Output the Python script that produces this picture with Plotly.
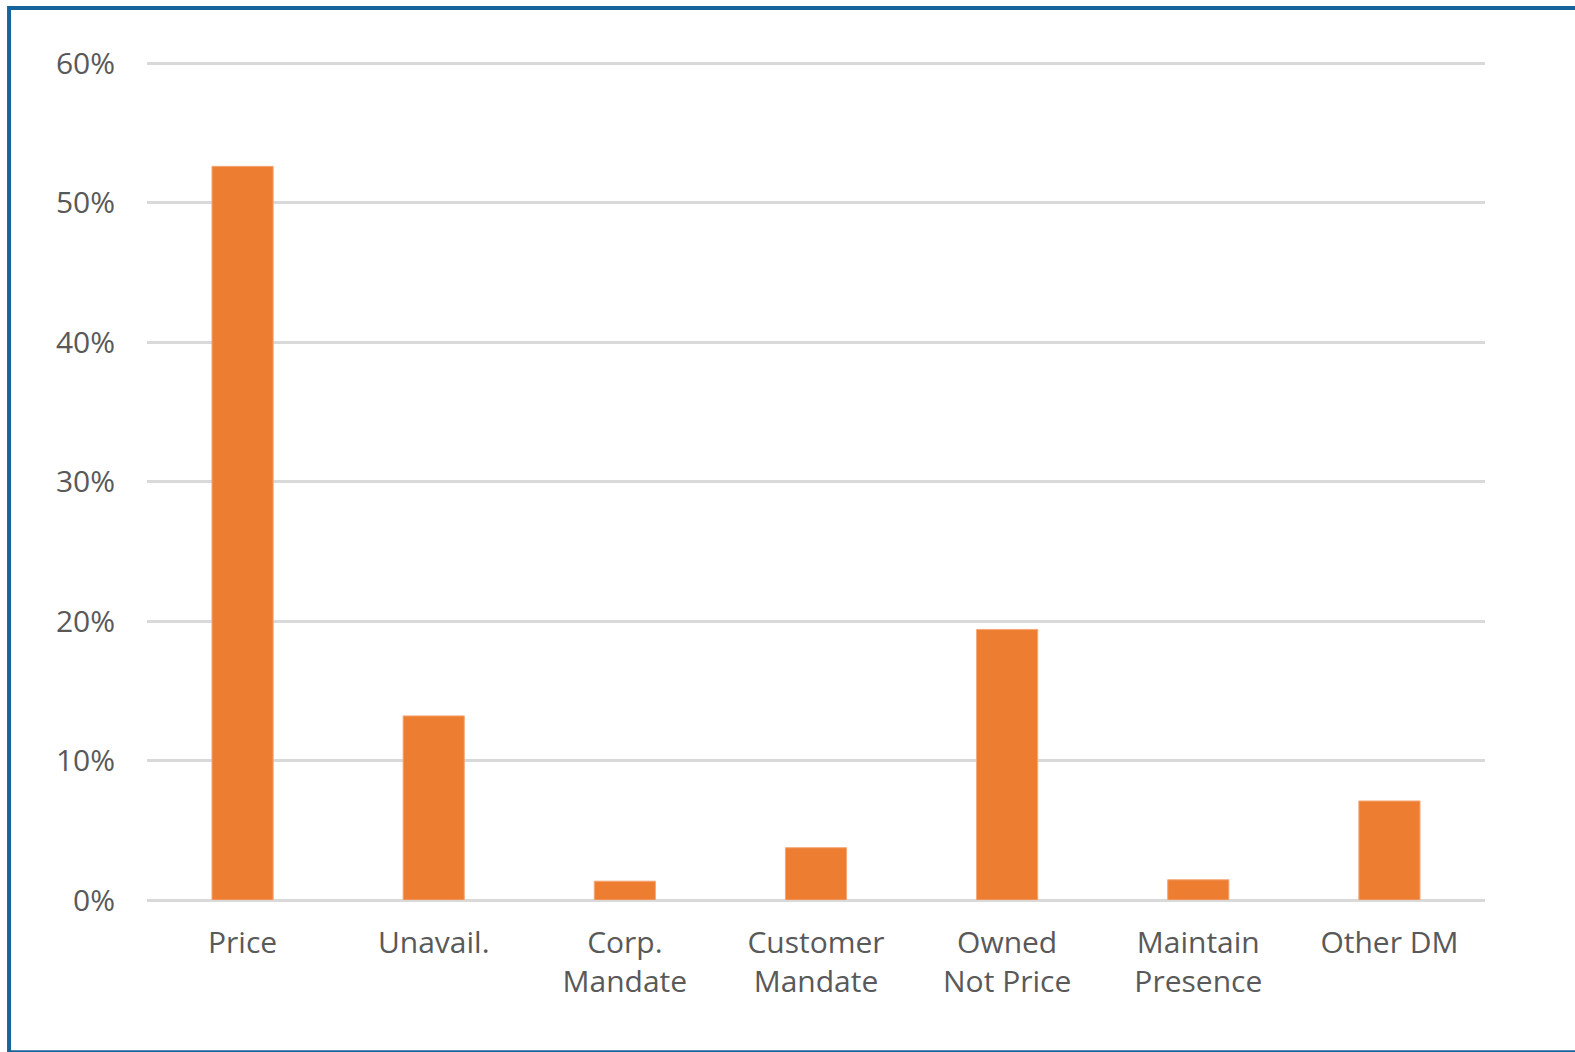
import plotly.graph_objects as go

categories = ["Price", "Unavail.", "Corp.<br>Mandate", "Customer<br>Mandate",
              "Owned<br>Not Price", "Maintain<br>Presence", "Other DM"]
values = [0.526, 0.132, 0.0135, 0.0375, 0.194, 0.0145, 0.071]
y_ticks = [0, 0.1, 0.2, 0.3, 0.4, 0.5, 0.6]
y_tick_labels = ["0%", "10%", "20%", "30%", "40%", "50%", "60%"]

S = 1.005  # compensate for capture scaling
W, H = round(1575 * S), round(1052 * S)
L, R, T, B = round(146 * S), 0, round(62 * S), 0
R = W - round(1478 * S)
B = H - round(896 * S)
pw, ph = W - L - R, H - T - B
YMAX = 0.6008

def px_x(p):
    return (p * S - L) / pw

def px_y(p):
    return (H - B - p * S) / ph

fig = go.Figure(go.Bar(
    x=categories, y=values,
    marker=dict(color="#ED7D31", line=dict(color="#F4A878", width=1)),
    width=0.32,
))

fs = round(30 * S)
fig.update_layout(
    width=W, height=H,
    margin=dict(l=L, r=R, t=T, b=B),
    paper_bgcolor="white", plot_bgcolor="white",
    font=dict(family="Open Sans", size=fs, color="#595959"),
    showlegend=False,
    xaxis=dict(showgrid=False, showline=False, ticks="", ticklabelstandoff=22,
               tickfont=dict(size=fs, color="#595959")),
    yaxis=dict(range=[0, YMAX], tickvals=y_ticks, ticktext=y_tick_labels,
               showgrid=True, gridcolor="#D9D9D9", gridwidth=3,
               zeroline=True, zerolinecolor="#D9D9D9", zerolinewidth=3,
               showline=False, ticks="", ticklabelstandoff=31,
               tickfont=dict(size=fs, color="#595959")),
    shapes=[dict(type="rect", xref="paper", yref="paper",
                 x0=px_x(9), x1=px_x(1571), y0=px_y(1047), y1=px_y(8),
                 line=dict(color="#17649A", width=4), fillcolor="rgba(0,0,0,0)",
                 layer="above")],
)

fig.write_html("out.html", config={"displayModeBar": False},
               post_script="document.body.style.margin='0';document.body.style.overflow='hidden';")
